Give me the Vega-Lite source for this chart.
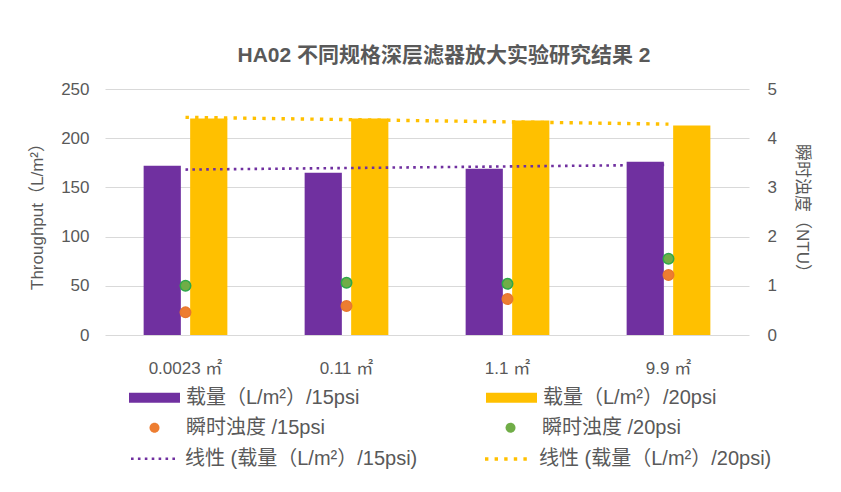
{
  "$schema": "https://vega.github.io/schema/vega-lite/v6.json",
  "description": "HA02 depth filter scale-up study: throughput bars, turbidity points and linear trends.",
  "width": 644,
  "height": 246,
  "autosize": {"type": "none"},
  "padding": {"left": 105, "top": 89, "right": 92, "bottom": 157},
  "background": "white",
  "title": {
    "text": "HA02 不同规格深层滤器放大实验研究结果 2",
    "fontSize": 21,
    "fontWeight": "bold",
    "color": "#595959",
    "font": "Liberation Sans, Noto Sans CJK SC",
    "anchor": "middle",
    "offset": 14,
    "dx": 17
  },
  "datasets": {
    "loads": [
      {"size": "0.0023 ㎡", "series": "载量（L/m²）/15psi", "throughput": 172},
      {"size": "0.0023 ㎡", "series": "载量（L/m²）/20psi", "throughput": 220},
      {"size": "0.11 ㎡", "series": "载量（L/m²）/15psi", "throughput": 165},
      {"size": "0.11 ㎡", "series": "载量（L/m²）/20psi", "throughput": 220},
      {"size": "1.1 ㎡", "series": "载量（L/m²）/15psi", "throughput": 169},
      {"size": "1.1 ㎡", "series": "载量（L/m²）/20psi", "throughput": 218},
      {"size": "9.9 ㎡", "series": "载量（L/m²）/15psi", "throughput": 176},
      {"size": "9.9 ㎡", "series": "载量（L/m²）/20psi", "throughput": 213}
    ],
    "turbidity": [
      {"size": "0.0023 ㎡", "series": "瞬时浊度 /15psi", "ntu": 0.46},
      {"size": "0.0023 ㎡", "series": "瞬时浊度 /20psi", "ntu": 1.0},
      {"size": "0.11 ㎡", "series": "瞬时浊度 /15psi", "ntu": 0.59},
      {"size": "0.11 ㎡", "series": "瞬时浊度 /20psi", "ntu": 1.06},
      {"size": "1.1 ㎡", "series": "瞬时浊度 /15psi", "ntu": 0.73},
      {"size": "1.1 ㎡", "series": "瞬时浊度 /20psi", "ntu": 1.04},
      {"size": "9.9 ㎡", "series": "瞬时浊度 /15psi", "ntu": 1.22},
      {"size": "9.9 ㎡", "series": "瞬时浊度 /20psi", "ntu": 1.55}
    ],
    "trend": [
      {"size": "0.0023 ㎡", "series": "线性 (载量（L/m²）/15psi)", "throughput": 168.1},
      {"size": "9.9 ㎡", "series": "线性 (载量（L/m²）/15psi)", "throughput": 172.9},
      {"size": "0.0023 ㎡", "series": "线性 (载量（L/m²）/20psi)", "throughput": 221.2},
      {"size": "9.9 ㎡", "series": "线性 (载量（L/m²）/20psi)", "throughput": 214.3}
    ]
  },
  "layer": [
    {
      "data": {"name": "loads"},
      "mark": {"type": "bar"},
      "encoding": {
        "x": {
          "field": "size",
          "type": "nominal",
          "scale": {"domain": ["0.0023 ㎡", "0.11 ㎡", "1.1 ㎡", "9.9 ㎡"], "paddingInner": 0.48, "paddingOuter": 0.24},
          "axis": {"title": null, "labelAngle": 0, "labelPadding": 25, "domain": false, "ticks": false, "grid": false}
        },
        "xOffset": {
          "field": "series",
          "type": "nominal",
          "scale": {"domain": ["载量（L/m²）/15psi", "载量（L/m²）/20psi"], "paddingInner": 0.2}
        },
        "y": {
          "field": "throughput",
          "type": "quantitative",
          "scale": {"domain": [0, 250]},
          "axis": {
            "title": "Throughput（L/m²）",
            "values": [0, 50, 100, 150, 200, 250],
            "domain": false,
            "ticks": false,
            "labelPadding": 16,
            "titlePadding": 14,
            "gridColor": "#D9D9D9"
          }
        },
        "color": {
          "field": "series",
          "type": "nominal",
          "scale": {"domain": ["载量（L/m²）/15psi", "载量（L/m²）/20psi"], "range": ["#7030A0", "#FFC000"]},
          "legend": {
            "title": null,
            "orient": "none",
            "direction": "horizontal",
            "columns": 2,
            "legendX": 24,
            "legendY": 283,
            "columnPadding": 126,
            "symbolType": "M-1,-0.2H1V0.2H-1Z",
            "symbolSize": 2601,
            "symbolStrokeWidth": 0
          }
        }
      }
    },
    {
      "data": {"name": "trend"},
      "mark": {"type": "line", "strokeCap": "butt"},
      "encoding": {
        "x": {"field": "size", "type": "nominal", "scale": {"domain": ["0.0023 ㎡", "0.11 ㎡", "1.1 ㎡", "9.9 ㎡"]}},
        "y": {"field": "throughput", "type": "quantitative", "scale": {"domain": [0, 250]}, "axis": null},
        "stroke": {
          "field": "series",
          "type": "nominal",
          "scale": {"domain": ["线性 (载量（L/m²）/15psi)", "线性 (载量（L/m²）/20psi)"], "range": ["#7030A0", "#FFC000"]},
          "legend": {
            "title": null,
            "orient": "none",
            "direction": "horizontal",
            "columns": 2,
            "legendX": 24,
            "legendY": 345,
            "columnPadding": 60,
            "symbolType": "stroke",
            "symbolSize": 2116,
            "symbolStrokeWidth": 3
          }
        },
        "strokeDash": {
          "field": "series",
          "type": "nominal",
          "scale": {"domain": ["线性 (载量（L/m²）/15psi)", "线性 (载量（L/m²）/20psi)"], "range": [[2.6, 4.3], [3.4, 6.2]]}
        },
        "strokeWidth": {
          "field": "series",
          "type": "nominal",
          "scale": {"domain": ["线性 (载量（L/m²）/15psi)", "线性 (载量（L/m²）/20psi)"], "range": [2.6, 3.4]},
          "legend": null
        }
      }
    },
    {
      "data": {"name": "turbidity"},
      "mark": {"type": "point", "shape": "circle", "filled": true, "opacity": 1, "size": 110, "strokeWidth": 1.5},
      "encoding": {
        "x": {"field": "size", "type": "nominal", "scale": {"domain": ["0.0023 ㎡", "0.11 ㎡", "1.1 ㎡", "9.9 ㎡"]}},
        "y": {
          "field": "ntu",
          "type": "quantitative",
          "scale": {"domain": [0, 5]},
          "axis": {
            "orient": "right",
            "title": "瞬时浊度（NTU）",
            "values": [0, 1, 2, 3, 4, 5],
            "grid": false,
            "domain": false,
            "ticks": false,
            "labelPadding": 18,
            "titlePadding": 16
          }
        },
        "fill": {
          "field": "series",
          "type": "nominal",
          "scale": {"domain": ["瞬时浊度 /15psi", "瞬时浊度 /20psi"], "range": ["#ED7D31", "#70AD47"]},
          "legend": {
            "title": null,
            "orient": "none",
            "direction": "horizontal",
            "columns": 2,
            "legendX": 24,
            "legendY": 313,
            "columnPadding": 160,
            "symbolType": "M0,-0.196A0.196,0.196 0 1,1 0,0.196A0.196,0.196 0 1,1 0,-0.196Z",
            "symbolSize": 2601,
            "symbolStrokeWidth": 0
          }
        },
        "stroke": {
          "condition": {"test": "datum.series === '瞬时浊度 /20psi'", "value": "#2EA84A"},
          "value": "#E8772E"
        }
      }
    }
  ],
  "resolve": {"scale": {"y": "independent"}},
  "config": {
    "view": {"stroke": null},
    "font": "Liberation Sans, Noto Sans CJK SC",
    "axis": {
      "labelFont": "Liberation Sans, Noto Sans CJK SC",
      "titleFont": "Liberation Sans, Noto Sans CJK SC",
      "labelFontSize": 17,
      "titleFontSize": 17,
      "titleFontWeight": "normal",
      "labelColor": "#595959",
      "titleColor": "#595959"
    },
    "legend": {
      "labelFont": "Liberation Sans, Noto Sans CJK SC",
      "labelFontSize": 20,
      "labelColor": "#595959",
      "labelOffset": 6,
      "labelLimit": 400,
      "gridAlign": "each"
    }
  }
}
